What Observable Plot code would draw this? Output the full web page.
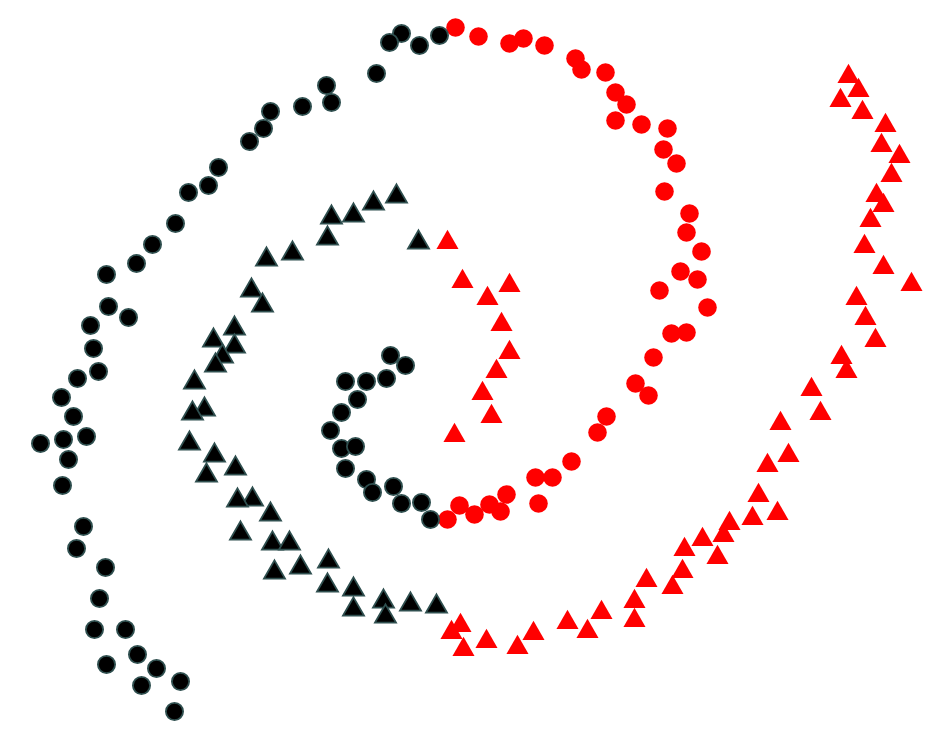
<!DOCTYPE html>
<html>
<head>
<meta charset="utf-8">
<script src="https://cdn.jsdelivr.net/npm/d3@7"></script>
<script src="https://cdn.jsdelivr.net/npm/@observablehq/plot@0.6"></script>
<style>
  html, body { margin: 0; padding: 0; background: #fff; }
  #chart svg { display: block; }
</style>
</head>
<body>
<div id="chart"></div>
<script>
// Black circles (class A, spiral 1)
const blackCircleX = [4.39,4.19,4.01,3.89,3.76,3.31,3.26,3.02,2.70,2.63,2.49,2.18,2.08,1.88,1.75,1.52,1.36,1.06,1.08,1.28,0.90,0.93,0.98,0.77,0.61,0.73,0.63,0.86,0.40,0.68,0.62,0.83,0.76,1.05,0.99,0.94,1.25,1.37,1.06,1.56,1.80,1.41,1.74,
  3.90,4.05,3.86,3.66,3.45,3.57,3.41,3.30,3.41,3.55,3.45,3.66,3.72,3.93,4.01,4.21,4.30];
const blackCircleY = [7.19,7.09,7.21,7.12,6.81,6.52,6.69,6.48,6.43,6.26,6.13,5.87,5.69,5.62,5.31,5.10,4.91,4.80,4.48,4.37,4.29,4.06,3.83,3.76,3.57,3.38,3.15,3.18,3.11,2.95,2.69,2.28,2.06,1.87,1.56,1.25,1.25,1.00,0.90,0.86,0.73,0.69,0.43,
  3.99,3.89,3.76,3.73,3.73,3.55,3.42,3.24,3.06,3.08,2.86,2.75,2.62,2.68,2.51,2.52,2.35];

// Red circles
const redCircleX = [4.55,4.78,5.09,5.23,5.44,5.75,5.81,6.05,6.15,6.26,6.15,6.41,6.67,6.63,6.76,6.64,6.89,6.86,7.01,6.80,6.97,6.59,7.07,6.71,6.86,6.53,6.35,6.48,6.06,5.97,5.71,5.35,5.52,5.38,5.06,4.89,5.00,4.74,4.59,4.47];
const redCircleY = [7.27,7.18,7.11,7.16,7.09,6.96,6.85,6.82,6.62,6.50,6.34,6.30,6.26,6.05,5.91,5.63,5.41,5.22,5.03,4.83,4.75,4.64,4.47,4.21,4.22,3.97,3.71,3.59,3.38,3.22,2.93,2.77,2.77,2.51,2.60,2.50,2.43,2.40,2.49,2.35];

// Black triangles
const blackTriangleX = [3.96,3.73,3.53,3.31,3.27,4.18,2.92,2.66,2.51,2.62,2.34,2.13,2.34,2.22,2.15,1.94,2.04,1.92,1.89,2.14,2.35,2.06,2.52,2.37,2.70,2.40,2.72,2.89,3.00,3.28,2.74,3.27,3.53,3.83,4.10,4.36,3.53,3.85];
const blackTriangleY = [5.61,5.54,5.42,5.40,5.19,5.15,5.04,4.98,4.67,4.52,4.29,4.17,4.11,4.01,3.92,3.75,3.48,3.44,3.14,3.02,2.89,2.82,2.58,2.57,2.43,2.24,2.14,2.14,1.90,1.96,1.85,1.72,1.68,1.56,1.53,1.51,1.48,1.41];

// Red triangles
const redTriangleX = [4.47,4.62,5.09,4.87,5.01,5.09,4.96,4.82,4.91,4.54,4.60,4.51,4.63,4.86,5.17,5.33,5.67,5.87,6.01,6.34,6.34,6.46,6.72,6.82,6.84,7.02,7.17,7.23,7.29,7.52,7.58,7.77,7.67,7.88,7.80,8.20,8.11,8.46,8.41,8.75,8.65,8.56,9.11,8.83,8.64,8.70,8.83,8.76,8.91,8.99,8.81,8.85,8.62,8.40,8.58,8.48];
const redTriangleY = [5.15,4.76,4.72,4.59,4.33,4.05,3.86,3.64,3.41,3.22,1.32,1.25,1.08,1.16,1.10,1.24,1.35,1.26,1.45,1.56,1.37,1.77,1.70,1.86,2.08,2.18,2.00,2.22,2.34,2.39,2.62,2.44,2.92,3.02,3.34,3.44,3.68,3.86,4.00,4.17,4.39,4.59,4.73,4.90,5.11,5.37,5.52,5.62,5.82,6.01,6.12,6.32,6.45,6.57,6.67,6.81];

const toRows = (xs, ys) => xs.map((x, i) => ({x, y: ys[i]}));
const bc = toRows(blackCircleX, blackCircleY);
const rc = toRows(redCircleX, redCircleY);
const bt = toRows(blackTriangleX, blackTriangleY);
const rt = toRows(redTriangleX, redTriangleY);

const chart = Plot.plot({
  width: 948,
  height: 754,
  margin: 0,
  x: {domain: [0, 9.48], axis: null},
  y: {domain: [0, 7.54], axis: null},
  marks: [
    Plot.dot(rc, {x: "x", y: "y", r: 9.3, fill: "red", stroke: "none"}),
    Plot.dot(rt, {x: "x", y: "y", symbol: "triangle", r: 8.2, dy: 3, fill: "red", stroke: "none"}),
    Plot.dot(bc, {x: "x", y: "y", r: 8.6, fill: "black", stroke: "#2f4f4f", strokeWidth: 1.8}),
    Plot.dot(bt, {x: "x", y: "y", symbol: "triangle", r: 7.8, dy: 3, fill: "black", stroke: "#2f4f4f", strokeWidth: 1.8})
  ]
});
document.getElementById("chart").appendChild(chart);
</script>
</body>
</html>
